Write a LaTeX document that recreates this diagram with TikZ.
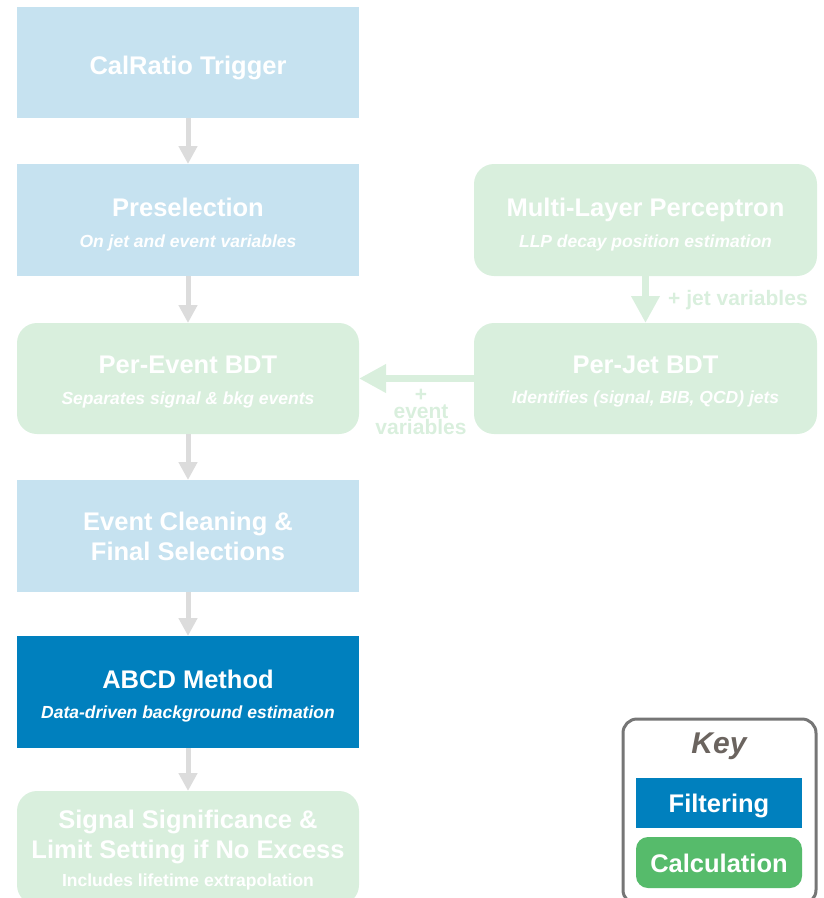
\documentclass[tikz,border=0pt]{standalone}
\usepackage{fontspec}
\setmainfont{Liberation Sans}
\usetikzlibrary{arrows.meta}
\definecolor{lblue}{RGB}{198,226,240}
\definecolor{lgreen}{RGB}{217,239,221}
\definecolor{dblue}{RGB}{0,128,190}
\definecolor{kgreen}{RGB}{86,187,107}
\definecolor{agrey}{RGB}{220,220,220}
\definecolor{kborder}{RGB}{118,118,118}
\definecolor{ktext}{RGB}{107,100,95}
\tikzset{
  box/.style={draw=none, outer sep=0pt, inner sep=0pt},
  bluebox/.style={box, fill=lblue},
  greenbox/.style={box, fill=lgreen, rounded corners=20pt},
  ttl/.style={anchor=base, inner sep=0pt, text=white, font=\fontsize{25.5}{28}\selectfont\bfseries},
  sub/.style={anchor=base, inner sep=0pt, text=white, font=\fontsize{17.5}{20}\selectfont\bfseries\itshape},
  greyarrow/.style={draw=agrey, line width=5pt, -{Triangle[width=18pt,length=18pt]}},
  greenarrow/.style={draw=lgreen, line width=7pt, -{Triangle[width=27pt,length=27pt]}},
  glabel/.style={inner sep=0pt, text=lgreen, font=\fontsize{21}{16.5}\selectfont\bfseries}
}
\begin{document}
\begin{tikzpicture}[x=1pt,y=-1pt]
\useasboundingbox (0,0) rectangle (823,898);
% boxes
\node[bluebox, minimum width=342pt, minimum height=111pt] (trig) at (188,62.5) {};
\node[bluebox, minimum width=342pt, minimum height=112pt] (presel) at (188,220) {};
\node[greenbox, minimum width=342pt, minimum height=111pt] (perevt) at (188,378.5) {};
\node[bluebox, minimum width=342pt, minimum height=112pt] (clean) at (188,536) {};
\node[box, fill=dblue, minimum width=342pt, minimum height=112pt] (abcd) at (188,692) {};
\node[greenbox, minimum width=342pt, minimum height=114pt] (signif) at (188,848) {};
\node[greenbox, minimum width=343pt, minimum height=112pt] (mlp) at (645.5,220) {};
\node[greenbox, minimum width=343pt, minimum height=111pt] (perjet) at (645.5,378.5) {};
% texts
\node[ttl] (trigT) at (188,74) {CalRatio Trigger};
\node[ttl] (preselT) at (188,216) {Preselection};
\node[sub] (preselS) at (188,247) {On jet and event variables};
\node[ttl] (perevtT) at (188,373) {Per-Event BDT};
\node[sub] (perevtS) at (188,404) {Separates signal \& bkg events};
\node[ttl] (cleanA) at (188,530) {Event Cleaning \&};
\node[ttl] (cleanB) at (188,560) {Final Selections};
\node[ttl] (abcdT) at (188,688) {ABCD Method};
\node[sub] (abcdS) at (188,718) {Data-driven background estimation};
\node[ttl] (signifA) at (188,828) {Signal Significance \&};
\node[ttl] (signifB) at (188,858) {Limit Setting if No Excess};
\node[sub, font=\fontsize{17.5}{20}\selectfont\bfseries] (signifS) at (188,886) {Includes lifetime extrapolation};
\node[ttl] (mlpT) at (645.5,216) {Multi-Layer Perceptron};
\node[sub] (mlpS) at (645.5,247) {LLP decay position estimation};
\node[ttl] (perjetT) at (645.5,373) {Per-Jet BDT};
\node[sub] (perjetS) at (645.5,403) {Identifies (signal, BIB, QCD) jets};
% arrows
\draw[greyarrow] (trig.south) -- (presel.north);
\draw[greyarrow] (presel.south) -- (perevt.north);
\draw[greyarrow] (perevt.south) -- (clean.north);
\draw[greyarrow] (clean.south) -- (abcd.north);
\draw[greyarrow] (abcd.south) -- (signif.north);
\draw[greenarrow] (mlp.south) -- (perjet.north);
\draw[greenarrow] (perjet.west) -- (perevt.east);
\node[glabel, anchor=base west] (jetvar) at (668,305) {+ jet variables};
\node[glabel, anchor=north, align=center] (evtvar) at (421,389) {+\\event\\variables};
% key
\node[box, draw=kborder, line width=3pt, rounded corners=14pt, fill=white, minimum width=193pt, minimum height=185pt] (key) at (719.5,811.5) {};
\node[anchor=base, inner sep=0pt, text=ktext, font=\fontsize{30}{32}\selectfont\bfseries\itshape] (keyT) at (719,753) {Key};
\node[box, fill=dblue, minimum width=166pt, minimum height=50pt] (filt) at (719,803) {};
\node[ttl] (filtT) at (719,812) {Filtering};
\node[box, fill=kgreen, rounded corners=12pt, minimum width=166pt, minimum height=51pt] (calc) at (719,862.5) {};
\node[ttl] (calcT) at (719,872) {Calculation};
\end{tikzpicture}
\end{document}
